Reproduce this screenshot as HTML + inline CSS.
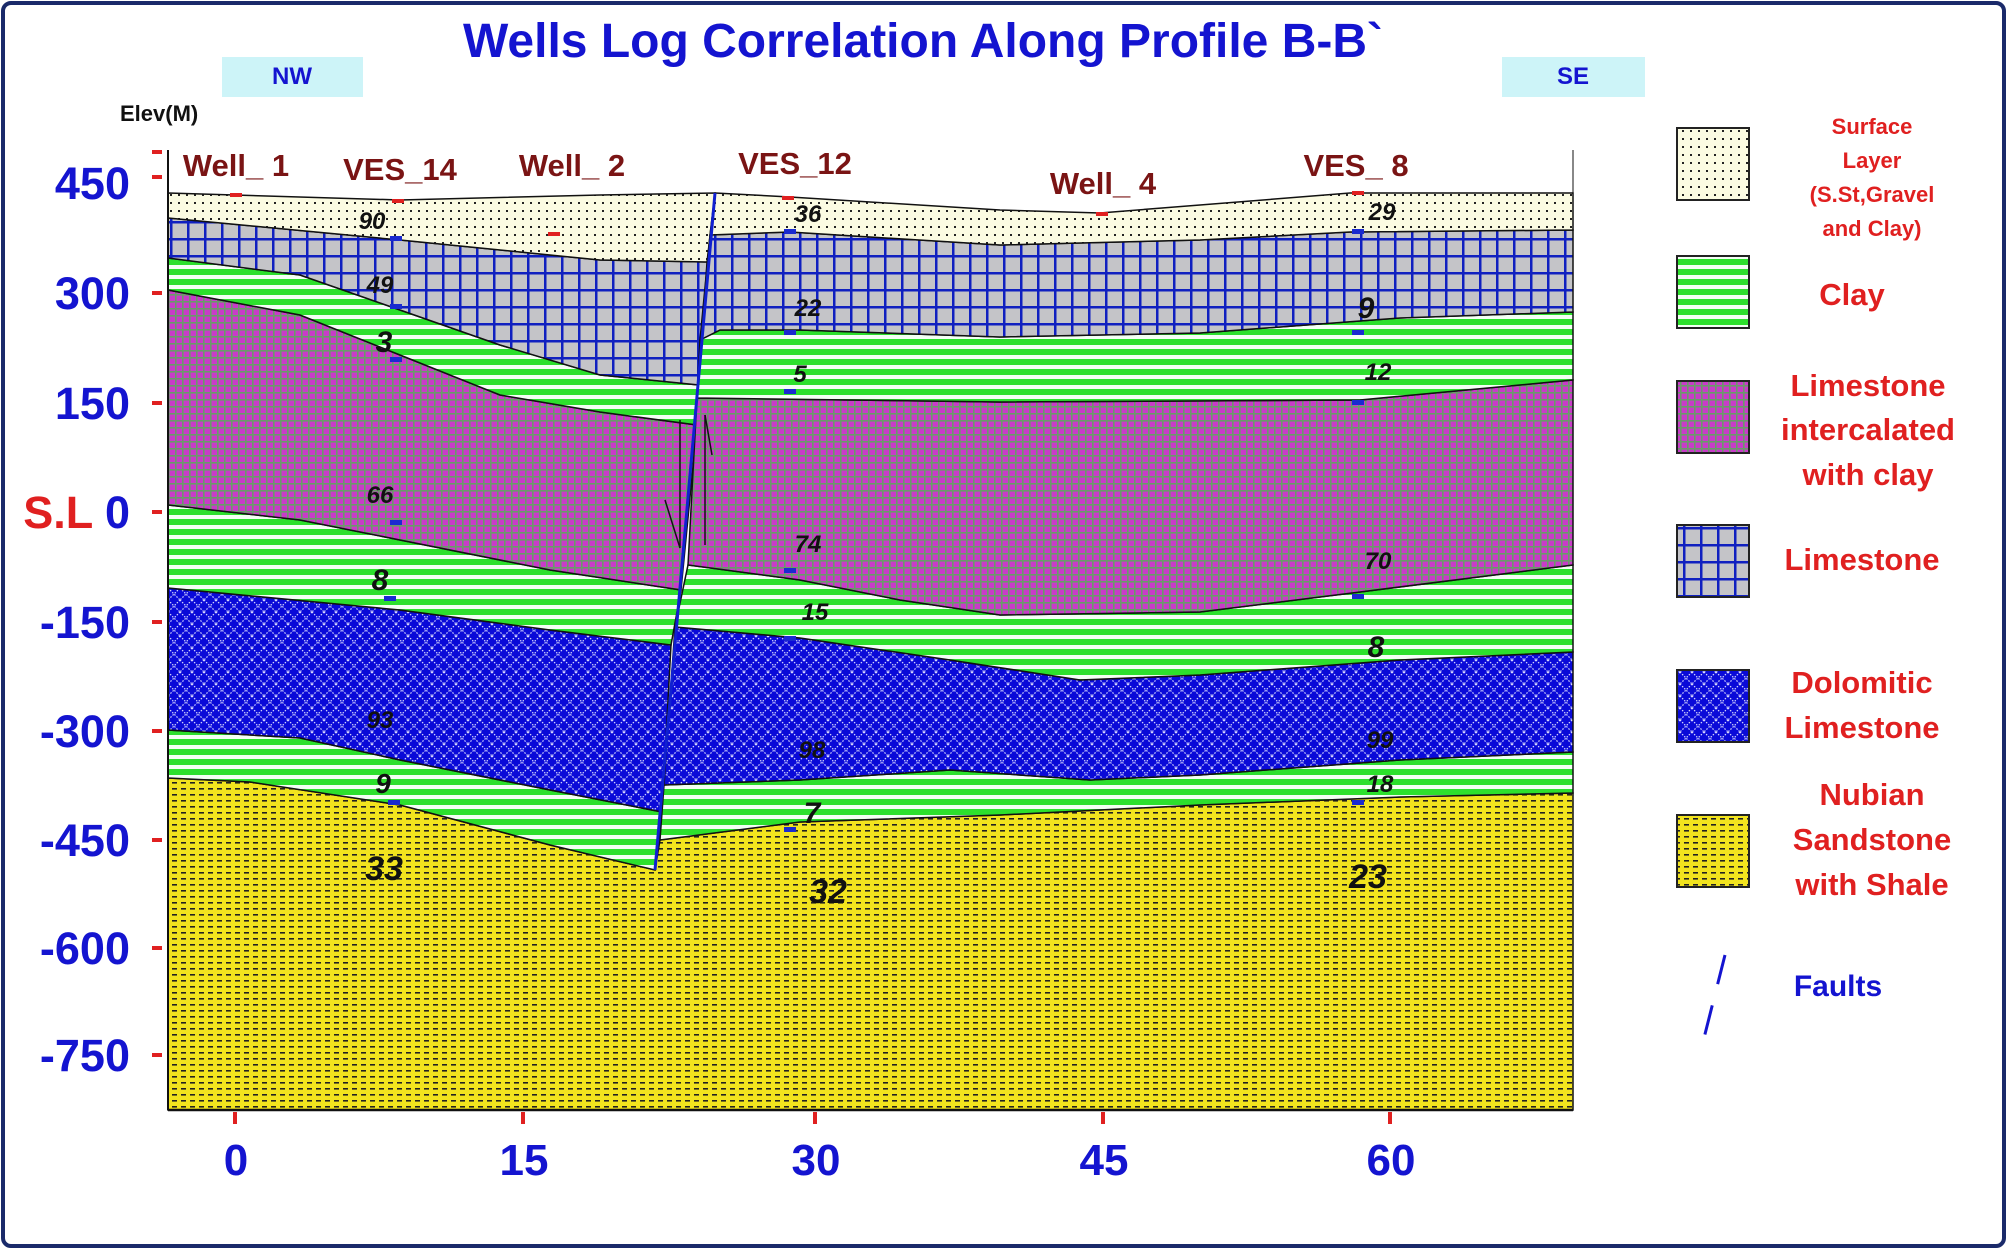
<!DOCTYPE html>
<html><head><meta charset="utf-8"><style>
html,body{margin:0;padding:0;background:#fff}
svg{display:block;font-family:"Liberation Sans",Arial,sans-serif}
</style></head><body>
<svg width="2007" height="1249" viewBox="0 0 2007 1249" xmlns="http://www.w3.org/2000/svg">
<defs>
<pattern id="pSurf" width="8" height="8" patternUnits="userSpaceOnUse"><rect width="8" height="8" fill="#fbfbe2"/><rect x="2" y="2" width="2" height="2" fill="#222"/></pattern>
<pattern id="pLime" width="17" height="17" patternUnits="userSpaceOnUse"><rect width="17" height="17" fill="#c4c4c8"/><rect width="2.5" height="17" fill="#1020c0"/><rect width="17" height="2.5" fill="#1020c0"/></pattern>
<pattern id="pClay" width="10" height="10" patternUnits="userSpaceOnUse"><rect width="10" height="10" fill="#2de02d"/><rect y="5" width="10" height="4" fill="#f4fff4"/></pattern>
<pattern id="pPurp" width="7" height="7" patternUnits="userSpaceOnUse"><rect width="7" height="7" fill="#c83cc8"/><rect width="1.6" height="7" fill="#6a9a6a"/><rect width="7" height="1.6" fill="#6a9a6a"/></pattern>
<pattern id="pDolo" width="12" height="12" patternUnits="userSpaceOnUse"><rect width="12" height="12" fill="#0a0ad8"/><path d="M0 0L12 12M12 0L0 12" stroke="#d8d8ff" stroke-width="1.2" stroke-dasharray="1.5 1.5"/></pattern>
<pattern id="pSand" width="9" height="6" patternUnits="userSpaceOnUse"><rect width="9" height="6" fill="#f2e41e"/><rect x="1" y="2" width="5" height="1.6" fill="#222"/></pattern>
</defs>
<rect x="3" y="3" width="2001" height="1243" rx="8" fill="#fff" stroke="#1a2a6a" stroke-width="4"/>
<text x="923" y="57" font-size="48" font-weight="bold" fill="#1414d0" text-anchor="middle">Wells Log Correlation Along Profile B-B`</text>
<rect x="222" y="57" width="141" height="40" fill="#cdf4f8"/><text x="292" y="84" font-size="24" font-weight="bold" fill="#1414d0" text-anchor="middle">NW</text>
<rect x="1502" y="57" width="143" height="40" fill="#cdf4f8"/><text x="1573" y="84" font-size="24" font-weight="bold" fill="#1414d0" text-anchor="middle">SE</text>
<text x="120" y="121" font-size="22" font-weight="bold" fill="#111">Elev(M)</text>
<g stroke="#111" stroke-width="1.5">
<polygon fill="url(#pSand)" points="168,778 250,782 400,805 550,845 655,870 660,840 800,822 1000,815 1200,805 1400,797 1573,793 1573,1110 168,1110"/>
<polygon fill="url(#pClay)" points="168,730 300,738 400,760 550,790 662,812 655,870 550,845 400,805 250,782 168,778"/>
<polygon fill="url(#pDolo)" points="168,588 400,610 550,630 671,645 662,812 550,790 400,760 300,738 168,730"/>
<polygon fill="url(#pClay)" points="168,505 300,520 400,540 550,570 681,590 671,645 550,630 400,610 168,588"/>
<polygon fill="url(#pPurp)" points="168,290 300,315 400,355 500,395 600,412 697,425 681,590 550,570 400,540 300,520 168,505"/>
<polygon fill="url(#pClay)" points="168,258 300,275 400,310 500,345 600,375 699,385 697,425 600,412 500,395 400,355 300,315 168,290"/>
<polygon fill="url(#pLime)" points="168,218 400,240 600,260 707,262 699,385 600,375 500,345 400,310 300,275 168,258"/>
<polygon fill="url(#pSurf)" points="168,193 400,200 600,195 715,193 707,262 600,260 400,240 168,218"/>
<polygon fill="url(#pClay)" points="664,785 800,780 950,770 1090,780 1200,775 1400,760 1573,752 1573,793 1400,797 1200,805 1000,815 800,822 660,840"/>
<polygon fill="url(#pDolo)" points="675,627 800,638 950,660 1080,680 1200,675 1400,660 1573,652 1573,752 1400,760 1200,775 1090,780 950,770 800,780 664,785"/>
<polygon fill="url(#pClay)" points="688,565 800,580 900,600 1000,615 1200,612 1360,592 1573,565 1573,652 1400,660 1200,675 1080,680 950,660 800,638 675,627"/>
<polygon fill="url(#pPurp)" points="697,398 1000,402 1360,400 1573,380 1573,565 1360,592 1200,612 1000,615 900,600 800,580 688,565"/>
<polygon fill="url(#pClay)" points="700,340 720,330 800,330 1000,337 1200,333 1400,318 1573,312 1573,380 1360,400 1000,402 697,398"/>
<polygon fill="url(#pLime)" points="710,235 790,232 1000,245 1200,240 1350,232 1573,230 1573,312 1400,318 1200,333 1000,337 800,330 720,330 700,340"/>
<polygon fill="url(#pSurf)" points="715,193 790,197 1000,210 1100,213 1200,205 1350,193 1573,193 1573,230 1350,232 1200,240 1000,245 790,232 710,235"/>
</g>
<line x1="715" y1="193" x2="655" y2="870" stroke="#1020d0" stroke-width="3"/>
<g stroke="#111" stroke-width="1.5" fill="none">
<line x1="680" y1="420" x2="680" y2="548"/><path d="M665 500 L680 548"/>
<line x1="705" y1="415" x2="705" y2="545"/><path d="M705 415 L712 455"/>
</g>
<line x1="168" y1="150" x2="168" y2="1110" stroke="#111" stroke-width="2"/>
<line x1="168" y1="1110" x2="1573" y2="1110" stroke="#111" stroke-width="2.5"/>
<line x1="1573" y1="150" x2="1573" y2="1110" stroke="#111" stroke-width="1"/>
<g fill="#e02020">
<rect x="152" y="150" width="10" height="4"/><rect x="152" y="175" width="10" height="4"/>
<rect x="152" y="291" width="10" height="4"/><rect x="152" y="401" width="10" height="4"/><rect x="152" y="510" width="10" height="4"/><rect x="152" y="620" width="10" height="4"/><rect x="152" y="729" width="10" height="4"/><rect x="152" y="838" width="10" height="4"/><rect x="152" y="946" width="10" height="4"/><rect x="152" y="1053" width="10" height="4"/>
<rect x="233" y="1112" width="4" height="12"/><rect x="521" y="1112" width="4" height="12"/><rect x="813" y="1112" width="4" height="12"/><rect x="1101" y="1112" width="4" height="12"/><rect x="1388" y="1112" width="4" height="12"/>
<rect x="230" y="193" width="12" height="4"/><rect x="392" y="199" width="12" height="4"/><rect x="548" y="232" width="12" height="4"/><rect x="782" y="196" width="12" height="4"/><rect x="1096" y="212" width="12" height="4"/><rect x="1352" y="191" width="12" height="4"/>
</g>
<g font-size="45" font-weight="bold" fill="#1414d0" text-anchor="end">
<text x="130" y="199">450</text><text x="130" y="309">300</text><text x="130" y="419">150</text>
<text x="130" y="528"><tspan fill="#e02020">S.L</tspan> 0</text>
<text x="130" y="638">-150</text><text x="130" y="747">-300</text><text x="130" y="856">-450</text><text x="130" y="964">-600</text><text x="130" y="1071">-750</text>
</g>
<g font-size="44" font-weight="bold" fill="#1414d0" text-anchor="middle">
<text x="236" y="1175">0</text><text x="524" y="1175">15</text><text x="816" y="1175">30</text><text x="1104" y="1175">45</text><text x="1391" y="1175">60</text>
</g>
<g font-size="31" font-weight="bold" fill="#7a1414" text-anchor="middle">
<text x="236" y="176">Well_ 1</text><text x="400" y="180">VES_14</text><text x="572" y="176">Well_ 2</text><text x="795" y="174">VES_12</text><text x="1103" y="194">Well_ 4</text><text x="1356" y="176">VES_ 8</text>
</g>
<g fill="#1a2ad0">
<rect x="390" y="236" width="12" height="5"/><rect x="390" y="304" width="12" height="5"/><rect x="390" y="357" width="12" height="5"/><rect x="390" y="520" width="12" height="5"/><rect x="384" y="596" width="12" height="5"/><rect x="388" y="800" width="12" height="5"/>
<rect x="784" y="229" width="12" height="5"/><rect x="784" y="330" width="12" height="5"/><rect x="784" y="389" width="12" height="5"/><rect x="784" y="568" width="12" height="5"/><rect x="784" y="636" width="12" height="5"/><rect x="784" y="827" width="12" height="5"/>
<rect x="1352" y="229" width="12" height="5"/><rect x="1352" y="330" width="12" height="5"/><rect x="1352" y="400" width="12" height="5"/><rect x="1352" y="594" width="12" height="5"/><rect x="1352" y="800" width="12" height="5"/>
</g>
<g font-size="24" font-style="italic" font-weight="bold" fill="#111" text-anchor="middle">
<text x="372" y="229">90</text><text x="380" y="293">49</text><text x="384" y="352" font-size="30">3</text><text x="380" y="503">66</text><text x="380" y="590" font-size="30">8</text><text x="380" y="728">93</text><text x="383" y="793" font-size="28">9</text>
<text x="808" y="222">36</text><text x="808" y="316">22</text><text x="800" y="382">5</text><text x="808" y="552">74</text><text x="815" y="620">15</text><text x="812" y="758">98</text><text x="812" y="823" font-size="30">7</text>
<text x="1382" y="220">29</text><text x="1366" y="318" font-size="30">9</text><text x="1378" y="380">12</text><text x="1378" y="569">70</text><text x="1376" y="657" font-size="30">8</text><text x="1380" y="748">99</text><text x="1380" y="792">18</text>
<text x="384" y="880" font-size="34">33</text><text x="828" y="903" font-size="34">32</text><text x="1368" y="888" font-size="34">23</text>
</g>
<g stroke="#222" stroke-width="2">
<rect x="1677" y="128" width="72" height="72" fill="url(#pSurf)"/>
<rect x="1677" y="256" width="72" height="72" fill="url(#pClay)"/>
<rect x="1677" y="381" width="72" height="72" fill="url(#pPurp)"/>
<rect x="1677" y="525" width="72" height="72" fill="url(#pLime)"/>
<rect x="1677" y="670" width="72" height="72" fill="url(#pDolo)"/>
<rect x="1677" y="815" width="72" height="72" fill="url(#pSand)"/>
</g>
<g font-weight="bold" fill="#e02020" text-anchor="middle">
<g font-size="22"><text x="1872" y="134">Surface</text><text x="1872" y="168">Layer</text><text x="1872" y="202">(S.St,Gravel</text><text x="1872" y="236">and Clay)</text></g>
<g font-size="31"><text x="1852" y="305">Clay</text>
<text x="1868" y="396">Limestone</text><text x="1868" y="440">intercalated</text><text x="1868" y="485">with clay</text>
<text x="1862" y="570">Limestone</text>
<text x="1862" y="693">Dolomitic</text><text x="1862" y="738">Limestone</text>
<text x="1872" y="805">Nubian</text><text x="1872" y="850">Sandstone</text><text x="1872" y="895">with Shale</text></g>
</g>
<line x1="1725" y1="955" x2="1703" y2="1042" stroke="#1414d0" stroke-width="3" stroke-dasharray="30 22"/>
<text x="1838" y="996" font-size="30" font-weight="bold" fill="#1414d0" text-anchor="middle">Faults</text>
</svg>
</body></html>
